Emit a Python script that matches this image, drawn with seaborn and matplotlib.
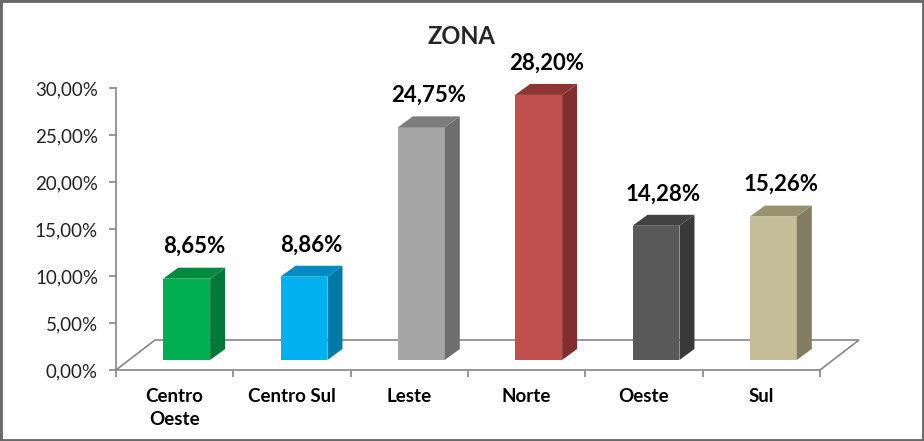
import numpy as np
import pandas as pd
import matplotlib
matplotlib.use("Agg")
import matplotlib.pyplot as plt
import matplotlib.transforms as mtransforms
from matplotlib.patches import Polygon, Rectangle
import seaborn as sns

# data
categories = ["Centro\nOeste", "Centro Sul", "Leste", "Norte", "Oeste", "Sul"]
values = [8.65, 8.86, 24.75, 28.20, 14.28, 15.26]
value_labels = ["8,65%", "8,86%", "24,75%", "28,20%", "14,28%", "15,26%"]
yticks = [0, 5, 10, 15, 20, 25, 30]
ytick_labels = ["0,00%", "5,00%", "10,00%", "15,00%", "20,00%", "25,00%", "30,00%"]

front_colors = ["#00B050", "#00B0F0", "#A6A6A6", "#C0504D", "#595959", "#C4BD97"]
side_colors = ["#00783A", "#0079A6", "#6E6E6E", "#7F302E", "#393939", "#827C61"]
top_colors = ["#008A40", "#008CC0", "#7C7C7C", "#8E3634", "#424242", "#99926F"]

sns.set_style("white")
plt.rcParams['font.family'] = ['Lato', 'DejaVu Sans']

fig = plt.figure(figsize=(9.24, 4.41), dpi=100)
ax = fig.add_axes([116/924, 71/441, 704/924, 282/441])

df = pd.DataFrame({"zona": categories, "pct": values})
sns.barplot(data=df, x="zona", y="pct", hue="zona", palette=front_colors,
            width=0.4, saturation=1, legend=False, linewidth=0, ax=ax, zorder=3)
bars = list(ax.patches)

ax.set_xlim(-0.5, 5.5)
ax.set_ylim(0, 30)

# 3d look: depth of bars and floor, in data units
px_x = 704 / 6
px_y = 282 / 30
bar_dx, bar_dy = 15 / px_x, 11 / px_y
floor_dx, floor_dy = 39 / px_x, 30 / px_y

def px_offset(dx, dy):
    return mtransforms.ScaledTranslation(dx / 100, dy / 100, fig.dpi_scale_trans)

bar_tr = ax.transData + px_offset(12, 10)

# floor
floor = Polygon([(-0.5, 0), (5.5, 0), (5.5 + floor_dx, floor_dy), (-0.5 + floor_dx, floor_dy)],
                closed=True, facecolor="none", edgecolor="#868686", linewidth=1.2,
                clip_on=False, zorder=1)
ax.add_patch(floor)

for i, p in enumerate(bars):
    x0, w, h = p.get_x(), p.get_width(), p.get_height()
    p.set_transform(bar_tr)
    p.set_clip_on(False)
    side = Polygon([(x0 + w, 0), (x0 + w + bar_dx, bar_dy), (x0 + w + bar_dx, h + bar_dy), (x0 + w, h)],
                   closed=True, facecolor=side_colors[i], edgecolor="none",
                   transform=bar_tr, clip_on=False, zorder=3)
    top = Polygon([(x0, h), (x0 + w, h), (x0 + w + bar_dx, h + bar_dy), (x0 + bar_dx, h + bar_dy)],
                  closed=True, facecolor=top_colors[i], edgecolor="none",
                  transform=bar_tr, clip_on=False, zorder=3)
    ax.add_patch(side)
    ax.add_patch(top)
    ax.annotate(value_labels[i], xy=(x0 + w / 2 + bar_dx / 2, h), xycoords=bar_tr,
                xytext=(0, 32), textcoords="offset pixels", ha="center", va="center",
                fontsize=16, fontweight="bold", color="black")

# axes styling
for s in ["top", "right", "bottom"]:
    ax.spines[s].set_visible(False)
ax.spines["left"].set_color("#868686")
ax.spines["left"].set_linewidth(1.2)

ax.set_yticks(yticks)
ax.set_yticklabels(ytick_labels)
ax.tick_params(axis="y", length=5, width=1.2, color="#868686", pad=8,
               labelsize=13.5, labelcolor="#222222", left=True)

ax.set_xticks(range(len(categories)))
ax.set_xticklabels(categories, fontweight="bold", fontsize=13.5)
for lab in ax.get_xticklabels():
    lab.set_linespacing(1.4)
ax.tick_params(axis="x", length=0, pad=13, labelcolor="black")
ax.set_xticks(np.arange(-0.5, 6, 1), minor=True)
ax.tick_params(axis="x", which="minor", length=5, width=1.2, color="#868686", bottom=True)

ax.set_xlabel("")
ax.set_ylabel("")
ax.grid(False)

fig.text(461 / 924, 1 - 37 / 441, "ZONA", ha="center", va="center",
         fontsize=17, fontweight="bold")

fig.patches.append(Rectangle((0, 0), 1, 1, transform=fig.transFigure, fill=False,
                             edgecolor="#6a6a6a", linewidth=3.5))

fig.savefig("out.png", dpi=100)
